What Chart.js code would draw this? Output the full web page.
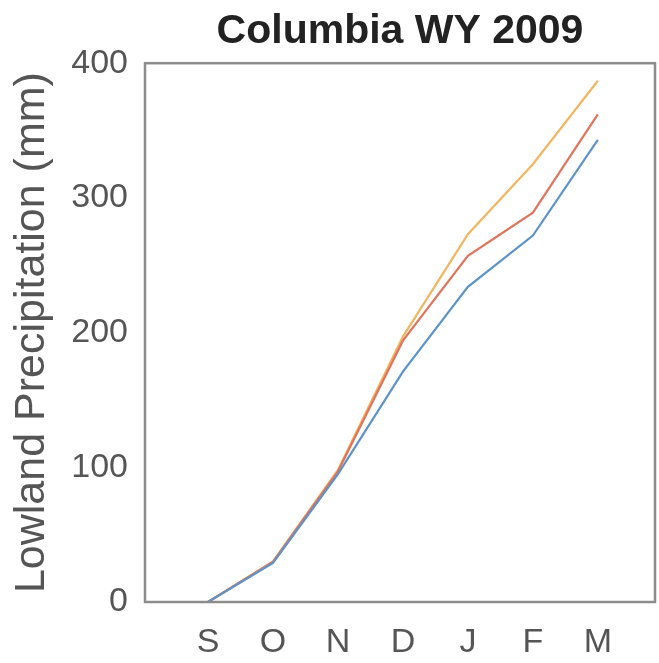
<!DOCTYPE html>
<html>
<head>
<meta charset="utf-8">
<script src="https://cdn.jsdelivr.net/npm/chart.js@4"></script>
<style>
  html, body { margin: 0; padding: 0; background: #fff; }
  #wrap { width: 659px; height: 663px; }
</style>
</head>
<body>
<div id="wrap"><canvas id="c" width="659" height="663"></canvas></div>
<script>
// Month tick labels (water year, Sep through Mar)
const months = ['S', 'O', 'N', 'D', 'J', 'F', 'M'];
// Cumulative lowland precipitation (mm) at each month tick
const seriesBlue   = [0, 29, 95, 171, 234, 272, 343];
const seriesRed    = [0, 30, 97, 194, 257, 289, 362];
const seriesOrange = [0, 30, 98, 197, 273, 325, 387];
const yTicks = [0, 100, 200, 300, 400];

const toPoints = arr => arr.map((v, i) => ({ x: i, y: v }));

// Full frame around the plotting area
const boxFrame = {
  id: 'boxFrame',
  afterDraw(chart) {
    const { ctx, chartArea: a } = chart;
    ctx.save();
    ctx.strokeStyle = '#8c8c8c';
    ctx.lineWidth = 2.5;
    ctx.strokeRect(a.left, a.top, a.right - a.left, a.bottom - a.top);
    ctx.restore();
  }
};

new Chart(document.getElementById('c'), {
  type: 'line',
  data: {
    datasets: [
      { data: toPoints(seriesBlue),   borderColor: '#5d93c9', borderWidth: 2.2 },
      { data: toPoints(seriesRed),    borderColor: '#e2745c', borderWidth: 2.2 },
      { data: toPoints(seriesOrange), borderColor: '#f2b560', borderWidth: 2.2 }
    ]
  },
  options: {
    responsive: false,
    animation: false,
    layout: { padding: { left: 0, right: 4, top: 0, bottom: 0 } },
    elements: { point: { radius: 0 }, line: { tension: 0 } },
    plugins: {
      legend: { display: false },
      tooltip: { enabled: false },
      title: {
        display: true,
        text: 'Columbia WY 2009',
        fullSize: false,
        color: '#222',
        font: { family: 'Liberation Sans, Arial, sans-serif', size: 41, weight: 'bold' },
        padding: { top: 7, bottom: 7 }
      }
    },
    scales: {
      x: {
        type: 'linear',
        min: -0.97,
        max: 6.88,
        grid: { display: false, drawTicks: false },
        border: { display: false },
        afterBuildTicks: s => { s.ticks = months.map((m, i) => ({ value: i })); },
        afterFit: s => { s.height = 61; },
        ticks: {
          callback: (v) => months[v],
          color: '#555',
          padding: 20,
          maxRotation: 0,
          font: { family: 'Liberation Sans, Arial, sans-serif', size: 34 }
        }
      },
      y: {
        min: 0,
        max: 400,
        grid: { display: false, drawTicks: false },
        border: { display: false },
        afterBuildTicks: s => { s.ticks = yTicks.map(v => ({ value: v })); },
        afterFit: s => { s.width = 145; },
        ticks: {
          color: '#555',
          padding: 17,
          font: { family: 'Liberation Sans, Arial, sans-serif', size: 34 }
        },
        title: {
          display: true,
          text: 'Lowland Precipitation (mm)',
          color: '#555',
          padding: { top: 6, bottom: 0 },
          font: { family: 'Liberation Sans, Arial, sans-serif', size: 43 }
        }
      }
    }
  },
  plugins: [boxFrame]
});
</script>
</body>
</html>
